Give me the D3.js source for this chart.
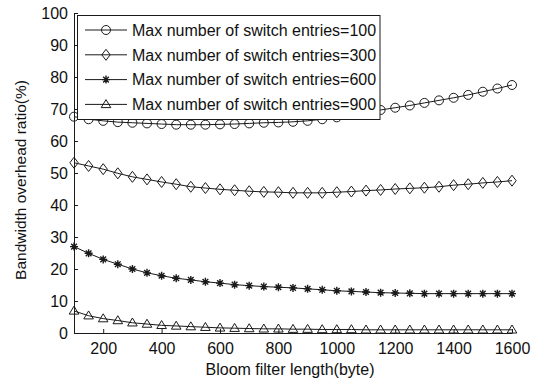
<!DOCTYPE html>
<html>
<head>
<meta charset="utf-8">
<script src="https://cdn.jsdelivr.net/npm/d3@7"></script>
<style>
  body { margin: 0; background: #fff; }
  svg text { font-family: "Liberation Sans", Arial, sans-serif; fill: #111; }
</style>
</head>
<body>
<svg id="chart" width="539" height="387"></svg>
<script>
// bloom filter length (byte)
const lengths = [100, 150, 200, 250, 300, 350, 400, 450, 500, 550, 600, 650, 700, 750, 800, 850,
  900, 950, 1000, 1050, 1100, 1150, 1200, 1250, 1300, 1350, 1400, 1450, 1500, 1550, 1600];

const entries100 = [67.6, 66.8, 66.3, 65.9, 65.7, 65.5, 65.3, 65.1, 65.1, 65.1, 65.2, 65.3, 65.5, 65.7, 65.8, 66.0,
  66.3, 66.8, 67.4, 68.2, 69.0, 69.7, 70.4, 71.1, 71.9, 72.7, 73.5, 74.4, 75.4, 76.4, 77.5];
const entries300 = [53.2, 52.2, 51.2, 49.9, 48.8, 48.0, 47.2, 46.5, 45.7, 45.3, 44.9, 44.6, 44.3, 44.1, 44.0, 43.8,
  43.8, 43.8, 44.0, 44.2, 44.5, 44.7, 45.0, 45.2, 45.4, 45.7, 46.2, 46.5, 46.9, 47.2, 47.6];
const entries600 = [27.0, 24.9, 23.0, 21.5, 20.0, 18.8, 17.9, 17.1, 16.6, 16.0, 15.6, 15.1, 14.8, 14.5, 14.3, 14.1,
  13.8, 13.5, 13.2, 13.0, 12.8, 12.6, 12.5, 12.4, 12.3, 12.3, 12.3, 12.3, 12.3, 12.3, 12.3];
const entries900 = [6.9, 5.4, 4.5, 3.9, 3.2, 2.8, 2.4, 2.2, 2.0, 1.8, 1.6, 1.5, 1.4, 1.3, 1.3, 1.2,
  1.2, 1.1, 1.1, 1.1, 1.0, 1.0, 1.0, 1.0, 1.0, 1.0, 1.0, 1.0, 1.0, 1.0, 1.0];

const seriesNames = ['Max number of switch entries=100', 'Max number of switch entries=300',
  'Max number of switch entries=600', 'Max number of switch entries=900'];
const markerTypes = ['circle', 'diamond', 'star', 'triangle'];

const xTicks = [200, 400, 600, 800, 1000, 1200, 1400, 1600];
const yTicks = [0, 10, 20, 30, 40, 50, 60, 70, 80, 90, 100];

const xTitle = 'Bloom filter length(byte)';
const yTitle = 'Bandwidth overhead ratio(%)';

const series = [entries100, entries300, entries600, entries900].map((vals, i) => ({
  name: seriesNames[i],
  marker: markerTypes[i],
  points: vals.map((v, j) => ({x: lengths[j], y: v}))
}));

const svg = d3.select('#chart');
const lineColor = '#1a1a1a';

const xScale = d3.scaleLinear().domain([100, 1600]).range([74, 512]);
const yScale = d3.scaleLinear().domain([0, 100]).range([333, 13]);

// axes, ticks point inward
const xAxis = d3.axisBottom(xScale).tickValues(xTicks).tickFormat(d3.format('d'))
  .tickSize(-4).tickSizeOuter(0).tickPadding(10);
const yAxis = d3.axisLeft(yScale).tickValues(yTicks).tickFormat(d3.format('d'))
  .tickSize(-4).tickSizeOuter(0).tickPadding(6);

const gx = svg.append('g').attr('transform', 'translate(0,' + yScale(0) + ')').call(xAxis);
const gy = svg.append('g').attr('transform', 'translate(' + xScale(100) + ',0)').call(yAxis);

[gx, gy].forEach(g => {
  g.selectAll('path.domain').attr('stroke', lineColor);
  g.selectAll('.tick line').attr('stroke', lineColor);
  g.selectAll('.tick text')
    .style('font-family', '"Liberation Sans", Arial, sans-serif')
    .style('font-size', '16px')
    .attr('fill', '#111');
});

// axis titles
svg.append('text')
  .attr('x', 290)
  .attr('y', 375)
  .attr('text-anchor', 'middle')
  .style('font-size', '16px')
  .text(xTitle);

svg.append('text')
  .attr('transform', 'translate(26,180) rotate(-90)')
  .attr('text-anchor', 'middle')
  .style('font-size', '15.5px')
  .text(yTitle);

// marker drawing
function drawMarker(g, type, cx, cy) {
  if (type === 'circle') {
    g.append('circle').attr('cx', cx).attr('cy', cy).attr('r', 4.5)
      .attr('fill', 'none').attr('stroke', lineColor).attr('stroke-width', 1);
  } else if (type === 'diamond') {
    const w = 4.2, h = 5.5;
    g.append('path')
      .attr('d', `M${cx},${cy - h}L${cx + w},${cy}L${cx},${cy + h}L${cx - w},${cy}Z`)
      .attr('fill', 'none').attr('stroke', lineColor).attr('stroke-width', 1);
  } else if (type === 'triangle') {
    const w = 4.8, h = 8;
    g.append('path')
      .attr('d', `M${cx},${cy - h * 0.6}L${cx + w},${cy + h * 0.4}L${cx - w},${cy + h * 0.4}Z`)
      .attr('fill', 'none').attr('stroke', lineColor).attr('stroke-width', 1);
  } else if (type === 'star') {
    const r = 4;
    let d = '';
    for (let k = 0; k < 4; k++) {
      const a = k * Math.PI / 4;
      const dx = r * Math.cos(a), dy = r * Math.sin(a);
      d += `M${cx - dx},${cy - dy}L${cx + dx},${cy + dy}`;
    }
    g.append('path').attr('d', d).attr('stroke', lineColor).attr('stroke-width', 1.4);
  }
}

const line = d3.line().x(d => xScale(d.x)).y(d => yScale(d.y));

const dataGroup = svg.append('g').attr('class', 'data-group');

series.forEach(s => {
  const g = dataGroup.append('g');
  g.append('path')
    .datum(s.points)
    .attr('d', line)
    .attr('fill', 'none')
    .attr('stroke', lineColor)
    .attr('stroke-width', 1);
  s.points.forEach(p => drawMarker(g, s.marker, xScale(p.x), yScale(p.y)));
});

// legend (opaque box over the data)
const legend = svg.append('g').attr('class', 'legend');
legend.append('rect')
  .attr('x', 77.5)
  .attr('y', 15.5)
  .attr('width', 302.5)
  .attr('height', 104)
  .attr('fill', '#fff')
  .attr('stroke', lineColor)
  .attr('stroke-width', 1);

series.forEach((s, i) => {
  const cy = 30 + i * 24.8;
  legend.append('line')
    .attr('x1', 85).attr('x2', 127)
    .attr('y1', cy).attr('y2', cy)
    .attr('stroke', lineColor).attr('stroke-width', 1);
  drawMarker(legend, s.marker, 106, cy);
  legend.append('text')
    .attr('x', 132)
    .attr('y', cy)
    .attr('dy', '0.36em')
    .style('font-size', '16px')
    .text(s.name);
});
</script>
</body>
</html>
